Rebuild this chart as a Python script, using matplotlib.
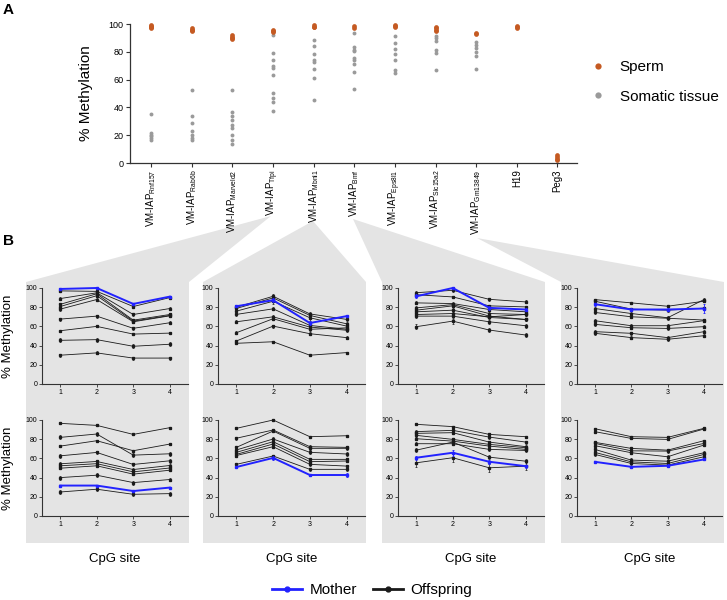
import numpy as np
import matplotlib
matplotlib.use('Agg')
import matplotlib.pyplot as plt
from matplotlib.patches import Polygon
from matplotlib.lines import Line2D

plt.rcParams['font.family'] = ['Liberation Sans', 'DejaVu Sans']
plt.rcParams['mathtext.fontset'] = 'custom'
plt.rcParams['mathtext.rm'] = 'Liberation Sans'
plt.rcParams['mathtext.it'] = 'Liberation Sans:italic'

W, H = 727, 600

# ---- panel A: sperm vs somatic methylation per locus ----
LOCI = ['Rnf157', 'Rab6b', 'Marveld2', 'Tfpi', 'Mbnl1', 'Bmf', 'Eps8l1',
        'Slc15a2', 'Gm13849', 'H19', 'Peg3']
SPERM = [[99, 98, 97.5, 98.5, 97], [97, 96, 95.5, 95], [92, 91, 90, 89.5],
         [96, 95, 94], [99, 98, 97.5], [98.5, 97], [99.5, 98.5, 98],
         [98, 97, 96, 95], [93.5, 92.5], [98.5, 97.5, 97], [5.5, 4, 3, 2]]
SOMATIC = [[35.3, 21.6, 20.4, 19.2, 18, 16.8],
           [52.3, 33.6, 28.8, 22.8, 20.4, 18, 16.3],
           [52.3, 36.5, 34, 31.2, 27.6, 25.2, 20.4, 16.8, 13.7],
           [91.8, 79.1, 74.3, 70, 68.3, 63, 50.4, 46.8, 43.9, 37.6],
           [88.7, 84.4, 78.7, 74.3, 72.7, 67.9, 61.2, 45.6],
           [93.5, 83.2, 81.5, 80.3, 75.5, 74.3, 71.2, 65.2, 53.2],
           [91.6, 86.3, 82.3, 78.2, 74.3, 66.7, 64.7],
           [91.6, 89.9, 87.5, 81.5, 79.1, 67.1],
           [86.8, 84.7, 82.7, 79.6, 77.2, 67.9],
           [], []]

# ---- panel B: mother vs offspring methylation at 4 CpG sites ----
SITES = [1, 2, 3, 4]

TFPI_TOP_MOTHER = [99, 100, 83.4, 91]
TFPI_TOP_MOTHER_ERR = [0.5, 0.5, 1, 0.5]
TFPI_TOP_OFF = [[97, 96.5, 80.7, 90], [89, 95, 72.4, 78.6],
                [83, 94, 66.5, 72.4], [80.7, 92, 65.5, 71.4],
                [78, 88, 64.8, 71], [67.6, 70.7, 58, 63.8],
                [55.5, 60, 52, 53], [45.5, 46.2, 39.3, 41.4],
                [30, 32.4, 27, 27]]
TFPI_TOP_ERR = [1, 2, 1.5, 1.5, 1.5, 1.5, 1, 2, 1.5]

TFPI_BOT_MOTHER = [31.7, 31.7, 26, 29.6]
TFPI_BOT_MOTHER_ERR = [0.5, 1, 1, 0.5]
TFPI_BOT_OFF = [[96.5, 94.4, 85, 92], [81.9, 85.4, 63.4, 64.8],
                [72.8, 78.4, 68, 74.9], [62.7, 66.2, 53.7, 57.5],
                [54.4, 56.8, 48.4, 52.6], [52.3, 54.5, 46, 50],
                [49.8, 52.3, 43.6, 47.7], [40, 42.5, 34.8, 38],
                [25, 27.9, 22.6, 23.3]]
TFPI_BOT_ERR = [1, 2, 1, 2, 1.5, 1, 1, 2, 2]

MBNL1_TOP_MOTHER = [81, 87.3, 63.5, 70.7]
MBNL1_TOP_MOTHER_ERR = [1, 2, 2, 1]
MBNL1_TOP_OFF = [[80, 91.4, 73, 67.3], [78.7, 89.7, 71.4, 62.7],
                 [75.9, 86.2, 69, 60.3], [72.5, 78.3, 61, 57],
                 [64.8, 70, 59.3, 56], [53.4, 68, 57, 58.5],
                 [44.8, 60.3, 52.4, 48.3], [42.4, 44, 30, 32.7]]
MBNL1_TOP_ERR = [2, 2, 3, 1.5, 1.5, 1.5, 1.5, 1]

MBNL1_BOT_MOTHER = [51, 60.5, 42.7, 42.7]
MBNL1_BOT_MOTHER_ERR = [1.5, 2, 1.5, 2]
MBNL1_BOT_OFF = [[91.3, 100, 82.6, 83.6], [81, 89.6, 72.2, 71.5],
                 [71.5, 88.5, 70.5, 70.5], [68.8, 80.2, 66.3, 64.6],
                 [66.3, 77.4, 59, 59], [64.2, 75, 56.6, 57.3],
                 [63, 72.2, 53.8, 52], [53.8, 62.5, 48.6, 48.6]]
MBNL1_BOT_ERR = [1, 1.5, 1.5, 2, 1.5, 1.5, 1.5, 1.5]

BMF_TOP_MOTHER = [91.3, 100, 79.3, 77.6]
BMF_TOP_MOTHER_ERR = [2, 1, 2, 1.5]
BMF_TOP_OFF = [[95.1, 97.6, 88.2, 85.5], [93, 90.7, 81.4, 80.3],
               [84.5, 83.8, 77.6, 75.2], [79.3, 82.7, 73.4, 72.4],
               [76.9, 81.4, 70.7, 67.2], [75.2, 76.9, 69.3, 67.2],
               [72.4, 73.4, 70, 72.4], [70.7, 70.7, 64.8, 60.7],
               [59.7, 65.5, 56.2, 51]]
BMF_TOP_ERR = [1.5, 1, 1.5, 1.5, 1.5, 2, 1.5, 2, 2.5]

BMF_BOT_MOTHER = [60.7, 65.9, 56.5, 51.9]
BMF_BOT_MOTHER_ERR = [2, 3, 2, 1.5]
BMF_BOT_OFF = [[95.5, 93.1, 85, 82.6], [87.9, 89.2, 82.2, 77],
               [86.1, 86.8, 77, 72.2], [84, 79.8, 74.6, 71.1],
               [80.5, 78, 72.8, 69.4], [75.3, 75.3, 69.4, 68.3],
               [68.6, 77, 61.3, 57.1], [55.4, 60.7, 50.2, 51.9]]
BMF_BOT_ERR = [1, 1.5, 1.5, 1.5, 1.5, 1.5, 2, 4]

GM_TOP_MOTHER = [83.1, 77.6, 77.6, 78.6]
GM_TOP_MOTHER_ERR = [1.5, 2, 1.5, 5]
GM_TOP_OFF = [[87.9, 84.5, 81, 86.2], [86.2, 78, 76.9, 79],
              [78.6, 73.4, 69, 87.9], [74.5, 70, 68.5, 66.6],
              [65.9, 60.7, 60.7, 66], [62.1, 58.6, 57.9, 59.7],
              [54.5, 52.8, 48.3, 54.5], [52.8, 48.3, 46.6, 50.3]]
GM_TOP_ERR = [1, 1.5, 1.5, 1.5, 1.5, 1.5, 1.5, 1.5]

GM_BOT_MOTHER = [56.4, 51.2, 52.3, 58.9]
GM_BOT_MOTHER_ERR = [1, 1, 1.5, 1]
GM_BOT_OFF = [[90.9, 82.6, 81.9, 91.3], [87.8, 80.8, 79.8, 90.6],
              [76.7, 70.4, 68.6, 78.4], [75.6, 67.9, 67.6, 75.6],
              [73.2, 65.9, 61.7, 73.9], [69.3, 58.2, 57.1, 65.9],
              [66.2, 56.4, 54.7, 64.1], [64.1, 54.7, 53, 61.7]]
GM_BOT_ERR = [1, 1, 1, 1.5, 1.5, 2, 1.5, 1.5]

PANELS = [
    [(TFPI_TOP_MOTHER, TFPI_TOP_MOTHER_ERR, TFPI_TOP_OFF, TFPI_TOP_ERR),
     (MBNL1_TOP_MOTHER, MBNL1_TOP_MOTHER_ERR, MBNL1_TOP_OFF, MBNL1_TOP_ERR),
     (BMF_TOP_MOTHER, BMF_TOP_MOTHER_ERR, BMF_TOP_OFF, BMF_TOP_ERR),
     (GM_TOP_MOTHER, GM_TOP_MOTHER_ERR, GM_TOP_OFF, GM_TOP_ERR)],
    [(TFPI_BOT_MOTHER, TFPI_BOT_MOTHER_ERR, TFPI_BOT_OFF, TFPI_BOT_ERR),
     (MBNL1_BOT_MOTHER, MBNL1_BOT_MOTHER_ERR, MBNL1_BOT_OFF, MBNL1_BOT_ERR),
     (BMF_BOT_MOTHER, BMF_BOT_MOTHER_ERR, BMF_BOT_OFF, BMF_BOT_ERR),
     (GM_BOT_MOTHER, GM_BOT_MOTHER_ERR, GM_BOT_OFF, GM_BOT_ERR)],
]

SPERM_C = '#c55a22'
SOMA_C = '#9a9a9a'
MOTHER_C = '#2222ff'
OFF_C = '#1a1a1a'
GRAY = '#e4e4e4'
AX_C = '#333333'


def frac(l, t, r, b):
    # pixel box (y down) -> figure fraction
    return [l / W, 1 - b / H, (r - l) / W, (b - t) / H]


fig = plt.figure(figsize=(W / 100, H / 100), dpi=100)

# grey fans linking panel A loci to the panel B columns
bg = fig.add_axes([0, 0, 1, 1], zorder=0)
bg.set_xlim(0, W)
bg.set_ylim(H, 0)
bg.axis('off')
fans = [((271, 216), 26, 189), ((313, 221), 203, 366),
        ((353, 219), 382, 545), ((477, 238), 561, 724)]
for apex, left, right in fans:
    bg.add_patch(Polygon([apex, (left, 282), (left, 543), (right, 543),
                          (right, 282)], closed=True, color=GRAY, lw=0))

# ---- panel A ----
axA = fig.add_axes(frac(130, 24, 577, 163), zorder=2)
for i in range(len(LOCI)):
    axA.plot([i] * len(SOMATIC[i]), SOMATIC[i], 'o', color=SOMA_C, ms=2.8,
             mew=0, clip_on=False)
    axA.plot([i] * len(SPERM[i]), SPERM[i], 'o', color=SPERM_C, ms=3.4,
             mew=0, clip_on=False)
axA.set_xlim(-0.52, 10.48)
axA.set_ylim(0, 100)
axA.set_yticks(range(0, 101, 20))
axA.set_xticks(range(len(LOCI)))
axA.set_xticklabels([r'VM-IAP$_{\mathrm{%s}}$' % n for n in LOCI[:9]]
                    + LOCI[9:], rotation=90, fontsize=7)
axA.tick_params(axis='y', labelsize=6.5, length=3, width=0.8, color=AX_C,
                pad=1.5)
axA.tick_params(axis='x', length=3, width=0.8, color=AX_C, pad=1.5)
for s in ['top', 'right']:
    axA.spines[s].set_visible(False)
for s in ['left', 'bottom']:
    axA.spines[s].set_color(AX_C)
    axA.spines[s].set_linewidth(0.9)
axA.set_ylabel('% Methylation', fontsize=11)
axA.yaxis.set_label_coords(-0.083, 0.5)
axA.legend(handles=[Line2D([], [], ls='', marker='o', ms=4.5, mew=0,
                           color=SPERM_C, label='Sperm'),
                    Line2D([], [], ls='', marker='o', ms=4.5, mew=0,
                           color=SOMA_C, label='Somatic tissue')],
           loc='center left', bbox_to_anchor=(577 / W, 1 - 82 / H),
           bbox_transform=fig.transFigure, frameon=False, fontsize=11,
           handletextpad=0.9, labelspacing=1.0, handlelength=1.0)

# ---- panel B ----
COL_L = [42, 218, 398, 577]
COL_R = [188, 365, 544, 722]
ROWS = [(288, 384), (420, 516)]
for r, (t, b) in enumerate(ROWS):
    for c in range(4):
        ax = fig.add_axes(frac(COL_L[c], t, COL_R[c], b), zorder=2)
        ax.patch.set_alpha(0)
        mother, merr, offspring, err = PANELS[r][c]
        for line, e in zip(offspring, err):
            ax.errorbar(SITES, line, yerr=e, color=OFF_C, lw=0.6, marker='s',
                        ms=1.4, capsize=1.0, elinewidth=0.5, capthick=0.5,
                        clip_on=False)
        ax.errorbar(SITES, mother, yerr=merr, color=MOTHER_C, lw=1.4,
                    marker='s', ms=1.8, capsize=1.0, elinewidth=0.6,
                    capthick=0.6, clip_on=False, zorder=3)
        ax.set_xlim(0.5, 4.5)
        ax.set_ylim(0, 100)
        ax.set_xticks(SITES)
        ax.set_yticks(range(0, 101, 20))
        ax.tick_params(labelsize=5, length=2.5, width=0.6, color=AX_C, pad=1)
        for s in ['top', 'right']:
            ax.spines[s].set_visible(False)
        for s in ['left', 'bottom']:
            ax.spines[s].set_color(AX_C)
            ax.spines[s].set_linewidth(0.8)
        if c == 0:
            ax.set_ylabel('% Methylation', fontsize=9.5)
            ax.yaxis.set_label_coords((14 - 42) / 146, 0.5)
        if r == 1:
            ax.set_xlabel('CpG site', fontsize=9.5)
            ax.xaxis.set_label_coords(0.5, (516 - 553) / 96)

fig.legend(handles=[Line2D([], [], color=MOTHER_C, lw=2, marker='o', ms=3.5,
                           label='Mother'),
                    Line2D([], [], color=OFF_C, lw=2, marker='o', ms=3.5,
                           label='Offspring')],
           loc='center', bbox_to_anchor=(372 / W, 1 - 590 / H), ncol=2,
           frameon=False, fontsize=11, handlelength=2.0, handletextpad=0.5,
           columnspacing=1.0)

fig.text(3 / W, 1 - 10 / H, 'A', fontsize=11, fontweight='bold', va='center')
fig.text(3 / W, 1 - 241 / H, 'B', fontsize=11, fontweight='bold',
         va='center')

fig.savefig('out.png', dpi=100)
